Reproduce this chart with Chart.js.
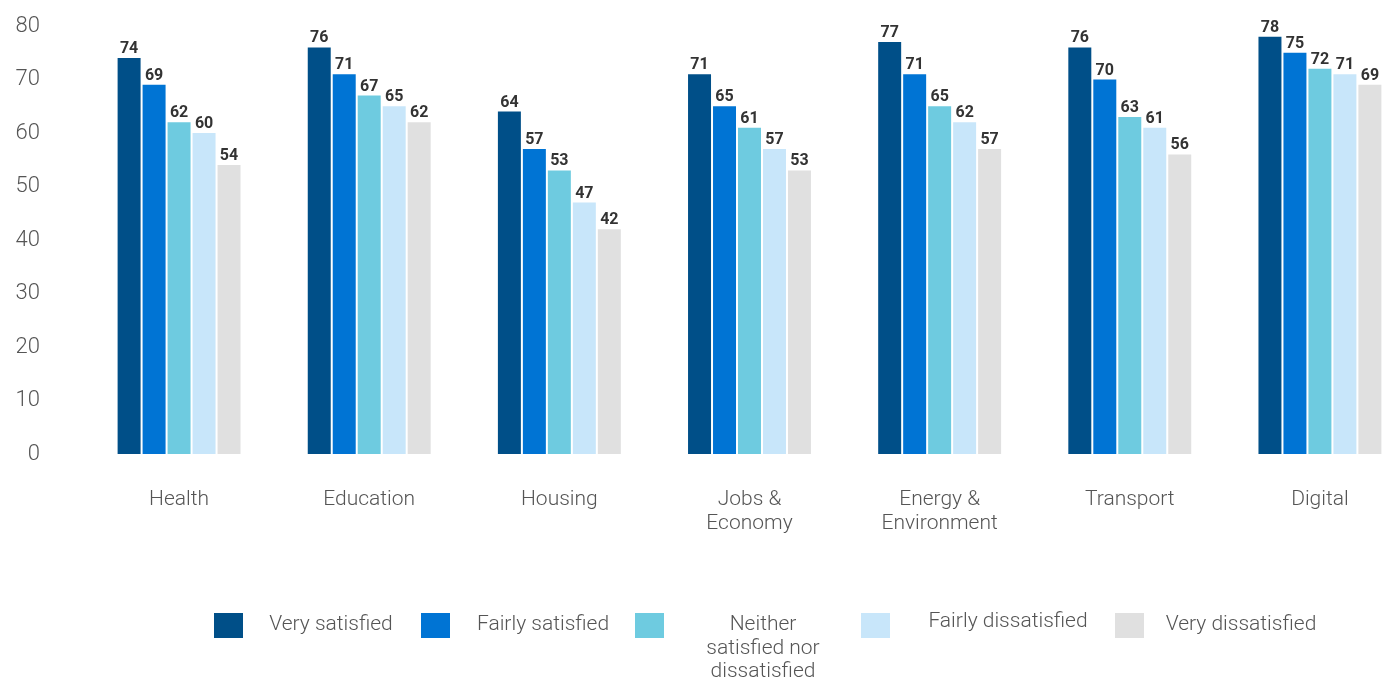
<!DOCTYPE html>
<html>
<head>
<meta charset="utf-8">
<script src="https://cdn.jsdelivr.net/npm/chart.js@4.4.1/dist/chart.umd.min.js"></script>
<style>
  html, body { margin: 0; padding: 0; background: #ffffff; overflow: hidden; }
  #wrap { position: relative; width: 1415px; height: 680px; }
</style>
</head>
<body>
<div id="wrap"><canvas id="c"></canvas></div>
<script>
const categories = ["Health", "Education", "Housing", ["Jobs &", "Economy"], ["Energy &", "Environment"], "Transport", "Digital"];
const seriesNames = ["Very satisfied", "Fairly satisfied", "Neither satisfied nor dissatisfied", "Fairly dissatisfied", "Very dissatisfied"];
const legendLines = [["Very satisfied"], ["Fairly satisfied"], ["Neither", "satisfied nor", "dissatisfied"], ["Fairly dissatisfied"], ["Very dissatisfied"]];
const verySatisfied = [74, 76, 64, 71, 77, 76, 78];
const fairlySatisfied = [69, 71, 57, 65, 71, 70, 75];
const neither = [62, 67, 53, 61, 65, 63, 72];
const fairlyDissatisfied = [60, 65, 47, 57, 62, 61, 71];
const veryDissatisfied = [54, 62, 42, 53, 57, 56, 69];
const yTicks = [0, 10, 20, 30, 40, 50, 60, 70, 80];

const colors = ["#004f88", "#0074d4", "#6ecbe0", "#c8e6fa", "#e0e0e0"];
const seriesValues = [verySatisfied, fairlySatisfied, neither, fairlyDissatisfied, veryDissatisfied];

const FONT = "Roboto, 'Liberation Sans', sans-serif";

const valueLabels = {
  id: 'valueLabels',
  afterDatasetsDraw(chart) {
    const ctx = chart.ctx;
    ctx.save();
    ctx.font = "bold 16px " + FONT;
    ctx.fillStyle = "#333333";
    ctx.textAlign = "center";
    ctx.textBaseline = "alphabetic";
    chart.data.datasets.forEach((ds, di) => {
      const meta = chart.getDatasetMeta(di);
      meta.data.forEach((bar, i) => {
        ctx.fillText(String(ds.data[i]), bar.x, bar.y - 5);
      });
    });
    ctx.restore();
  }
};

// legend layout: square left x and text center x for each item
const legendLayout = [
  { sx: 214, tx: 331, ty: 625 },
  { sx: 421, tx: 543, ty: 625 },
  { sx: 635, tx: 763, ty: 625 },
  { sx: 861, tx: 1008, ty: 622 },
  { sx: 1115, tx: 1241, ty: 625 }
];
const customLegend = {
  id: 'customLegend',
  afterDraw(chart) {
    const ctx = chart.ctx;
    ctx.save();
    ctx.font = "300 21px " + FONT;
    ctx.textAlign = "center";
    ctx.textBaseline = "middle";
    legendLines.forEach((lines, i) => {
      const L = legendLayout[i];
      ctx.fillStyle = colors[i];
      ctx.fillRect(L.sx, 613, 29, 25);
      ctx.fillStyle = "#555555";
      lines.forEach((t, j) => {
        ctx.fillText(t, L.tx, L.ty + j * 23.5);
      });
    });
    ctx.restore();
  }
};

new Chart(document.getElementById('c'), {
  type: 'bar',
  data: {
    labels: categories,
    datasets: seriesNames.map((name, i) => ({
      label: name,
      data: seriesValues[i],
      backgroundColor: colors[i],
      borderWidth: 0,
      categoryPercentage: 0.657,
      barPercentage: 0.92
    }))
  },
  options: {
    responsive: true,
    maintainAspectRatio: false,
    animation: false,
    layout: { padding: { top: 26, right: 0, bottom: 0, left: 0 } },
    plugins: {
      legend: { display: false },
      tooltip: { enabled: false },
      title: { display: false }
    },
    scales: {
      x: {
        grid: { display: false, drawTicks: false },
        border: { display: false },
        ticks: {
          color: "#555555",
          font: { family: FONT, size: 21, weight: 300, lineHeight: 1.14 },
          padding: 34,
          maxRotation: 0,
          autoSkip: false
        },
        afterFit(scale) { scale.height = 226; scale.paddingLeft = 0; scale.paddingRight = 0; }
      },
      y: {
        min: 0,
        max: 80,
        grid: { display: false, drawTicks: false },
        border: { display: false },
        afterBuildTicks(scale) { scale.ticks = yTicks.map(v => ({ value: v })); },
        ticks: {
          color: "#555555",
          font: { family: FONT, size: 22, weight: 300 },
          padding: 44
        },
        afterFit(scale) { scale.width = 84; scale.paddingTop = 0; scale.paddingBottom = 0; }
      }
    }
  },
  plugins: [valueLabels, customLegend]
});
</script>
</body>
</html>
